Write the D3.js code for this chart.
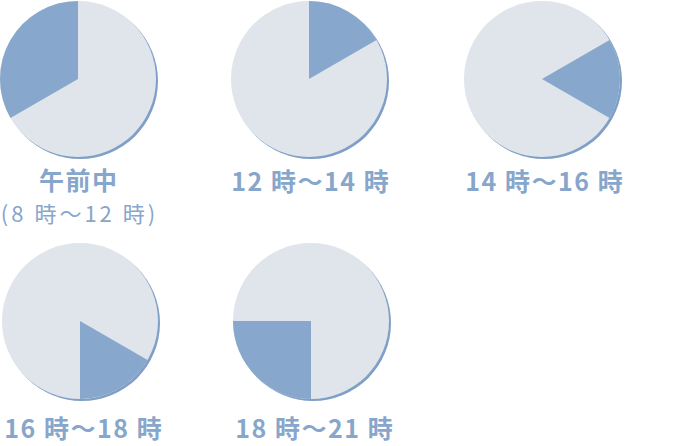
<!DOCTYPE html>
<html><head><meta charset="utf-8">
<script src="https://cdn.jsdelivr.net/npm/d3@7"></script>
<style>
html,body{margin:0;padding:0;background:#fff;}
svg{display:block;}
text{font-family:"Noto Sans CJK JP","Noto Sans",sans-serif;fill:#87a6cb;}
</style></head>
<body>
<svg id="chart" width="700" height="446"></svg>
<script>
// data
const labels = ["午前中", "12 時〜14 時", "14 時〜16 時", "16 時〜18 時", "18 時〜21 時"];
const subLabels = ["(8 時〜12 時)", "", "", "", ""];
const startHours = [8, 12, 14, 16, 18];
const endHours = [12, 14, 16, 18, 21];

const svg = d3.select("#chart");
const R = 78;
const colX = [78, 309, 542];
const rowY = [79, 321];
const labelDx = [0, 1, 2, 3, 3];
const angle = d3.scaleLinear().domain([0, 12]).range([0, 2 * Math.PI]);
const arc = d3.arc().innerRadius(0).outerRadius(R);

labels.forEach((lab, i) => {
  const cx = colX[i % 3] + (i >= 3 ? 2 : 0);
  const cy = rowY[Math.floor(i / 3)];
  const g = svg.append("g").attr("transform", `translate(${cx},${cy})`);
  // shadow
  g.append("circle").attr("cx", 2).attr("cy", 2).attr("r", R).attr("fill", "#7f9fc7");
  // face
  g.append("circle").attr("r", R).attr("fill", "#dfe5ea");
  let s = startHours[i] % 12, e = endHours[i] % 12;
  if (e <= s) e += 12;
  g.append("path")
    .attr("d", arc({startAngle: angle(s), endAngle: angle(e)}))
    .attr("fill", "#87a8cc");
  const ty = i < 3 ? (i === 0 ? 189.5 : 191) - cy : 438 - cy;
  const ls = 1.5;
  g.append("text").attr("x", labelDx[i] + ls / 2).attr("y", ty)
    .attr("text-anchor", "middle").attr("font-size", 25).attr("font-weight", 700)
    .attr("letter-spacing", ls)
    .text(lab);
  if (subLabels[i]) {
    g.append("text").attr("x", 1.5).attr("y", 221.5 - cy)
      .attr("text-anchor", "middle").attr("font-size", 22).attr("font-weight", 400)
      .attr("letter-spacing", 3)
      .text(subLabels[i]);
  }
});
</script>
</body></html>
